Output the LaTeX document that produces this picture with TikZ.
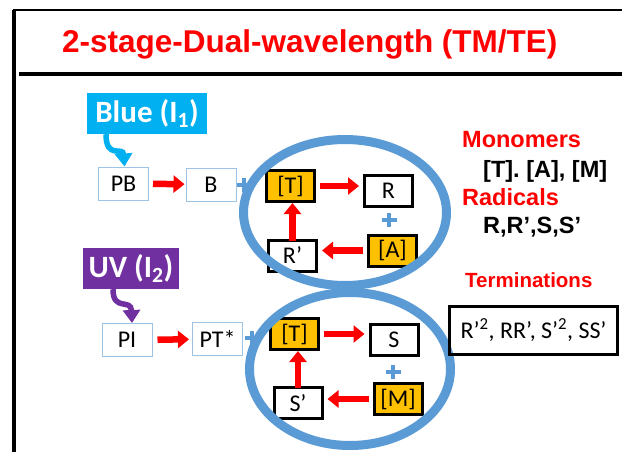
\documentclass[tikz,border=0pt]{standalone}
\usepackage{fontspec}
\setmainfont{Liberation Sans}
\newfontfamily\calib{Carlito}
\usetikzlibrary{arrows.meta}
\definecolor{cyanb}{HTML}{00B0F0}
\definecolor{purp}{HTML}{7030A0}
\definecolor{ellb}{HTML}{5B9BD5}
\definecolor{orng}{HTML}{FFC000}
\definecolor{thinb}{HTML}{9DC3E6}
\begin{document}
\begin{tikzpicture}[x=1pt,y=-1pt,
  thinbox/.style={draw=thinb, line width=1pt, fill=white, minimum width=50pt, minimum height=33pt, inner sep=0pt, font=\calib\fontsize{24}{28}\selectfont},
  thickbox/.style={draw=black, line width=3pt, fill=white, minimum width=48pt, minimum height=31pt, inner sep=0pt, font=\calib\fontsize{24}{28}\selectfont},
  monobox/.style={thickbox, fill=orng},
  redarrow/.style={draw=red, line width=6.5pt, -{Triangle[length=11pt,width=17pt]}},
  lightlabel/.style={text=white, inner sep=0pt, minimum height=41pt, font=\calib\bfseries\fontsize{31}{34}\selectfont},
  bplus/.pic={\draw[ellb, line width=4.5pt] (-7.5,0) -- (7.5,0) (0,-7) -- (0,7);},
  redtitle/.style={text=red, inner sep=0pt, anchor=base west, font=\bfseries\fontsize{23.5}{28}\selectfont},
  blacktxt/.style={text=black, inner sep=0pt, anchor=base west, font=\bfseries\fontsize{23.5}{28}\selectfont}
]
\useasboundingbox (0,0) rectangle (622,451);
\fill[white] (0,0) rectangle (622,451);
% frame
\draw[line width=3.5pt] (14,453) -- (14,10);
\draw[line width=2pt] (12.5,10) -- (622,10);
\draw[line width=3.5pt] (19,74) -- (622,74);
\node[text=red, inner sep=0pt, anchor=base west, font=\bfseries\fontsize{31.5}{36}\selectfont] (title) at (62,52) {2-stage-Dual-wavelength (TM/TE)};

% light sources
\node[lightlabel, fill=cyanb, minimum width=120pt] (blue) at (147,113.5) {Blue (I\textsubscript{1})};
\node[lightlabel, fill=purp, minimum width=96pt] (uv) at (131,268.5) {UV (I\textsubscript{2})};

% initiator boxes
\node[thinbox] (PB) at (123.5,183.5) {PB};
\node[thinbox] (B) at (211,184.5) {B};
\node[thinbox] (PI) at (127,340) {PI};
\node[thinbox] (PT) at (217.5,339) {PT*};

\draw[cyanb, line width=5.5pt, -{Triangle[length=13pt,width=17pt]}] ([xshift=-41pt]blue.south) .. controls (106,160) and (123,146) .. ([xshift=1pt]PB.north);
\draw[purp, line width=5.5pt, -{Triangle[length=13pt,width=17pt]}] ([xshift=-18pt]uv.south) .. controls (113,312) and (131,298) .. ([xshift=5pt]PI.north);

\draw[redarrow, shorten <=4pt, shorten >=1pt] (PB) -- (B);
\draw[redarrow, shorten <=5pt, shorten >=3pt] (PI) -- (PT);

\pic at (244,185) {bplus};
\pic at (252,338) {bplus};

% upper cycle
\node[monobox] (T1) at (290.5,186) {[T]};
\node[thickbox] (R) at (388.5,191) {R};
\node[monobox] (A) at (392.5,250.5) {[A]};
\node[thickbox] (Rp) at (292.5,255.5) {R’};
\pic at (389,220) {bplus};
\draw[redarrow, shorten <=4pt, shorten >=4pt] (T1.east) -- (T1.east -| R.west);
\draw[redarrow, shorten <=4pt, shorten >=4pt] (A.west) -- (A.west -| Rp.east);
\draw[redarrow, shorten <=-2pt, shorten >=0pt] (Rp.north) -- (Rp.north |- T1.south);

% lower cycle
\node[monobox] (T2) at (294.5,334) {[T]};
\node[thickbox] (S) at (394,339.5) {S};
\node[monobox] (M) at (398,399) {[M]};
\node[thickbox] (Sp) at (298,403) {S’};
\pic at (393,372) {bplus};
\draw[redarrow, shorten <=4pt, shorten >=4pt] (T2.east) -- (T2.east -| S.west);
\draw[redarrow, shorten <=4pt, shorten >=4pt] (M.west) -- (M.west -| Sp.east);
\draw[redarrow, shorten <=-2pt, shorten >=0pt] (Sp.north) -- (Sp.north |- T2.south);

% ellipses
\draw[ellb, line width=9pt] (345,212.5) ellipse [x radius=101.5pt, y radius=73pt];
\draw[ellb, line width=9pt] (350,369) ellipse [x radius=100.5pt, y radius=76.5pt];

% right texts
\node[redtitle] (mono) at (462,147) {Monomers};
\node[blacktxt] (monol) at (483,177) {[T]. [A], [M]};
\node[redtitle] (rad) at (462,205) {Radicals};
\node[blacktxt] (radl) at (483,233) {R,R’,S,S’};
\node[redtitle, font=\bfseries\fontsize{20.5}{24}\selectfont] (term) at (465,287) {Terminations};
\node[draw=black, line width=3pt, minimum width=168pt, minimum height=48pt, inner sep=0pt, font=\calib\fontsize{24}{28}\selectfont] (termbox) at (533.5,330.5) {R’\textsuperscript{2}, RR’, S’\textsuperscript{2}, SS’};
\end{tikzpicture}
\end{document}
